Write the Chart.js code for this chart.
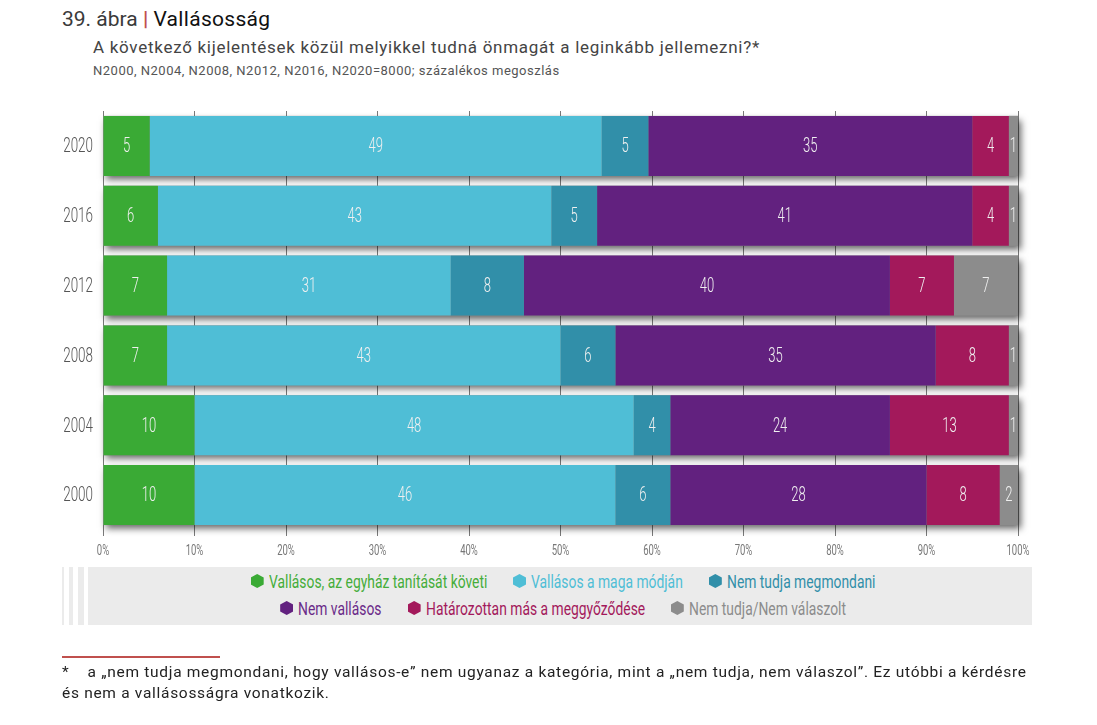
<!DOCTYPE html>
<html lang="hu">
<head>
<meta charset="utf-8">
<script src="https://cdn.jsdelivr.net/npm/chart.js@4"></script>
<style>
  html, body { margin: 0; padding: 0; background: #fff; }
  body { width: 1097px; height: 725px; position: relative; overflow: hidden; font-family: Roboto, 'Open Sans', sans-serif; }
  #wrap { position: absolute; left: 0; top: 0; width: 1097px; height: 725px; }
  .t1 { position: absolute; left: 62px; top: 7px; font-size: 21px; color: #3a3a3a; white-space: nowrap; }
  .t1 .bar { color: #c0504d; font-weight: 700; }
  .t1 .name { color: #111; letter-spacing: 0.3px; }
  .t2 { position: absolute; left: 93px; top: 37px; font-size: 17px; letter-spacing: 0.72px; color: #444; white-space: nowrap; }
  .t3 { position: absolute; left: 93px; top: 63px; font-size: 13px; letter-spacing: 0.5px; color: #555; white-space: nowrap; }
  .stripe { position: absolute; top: 567px; height: 58px; background: #ebebeb; }
  #legend { position: absolute; left: 88px; top: 567px; width: 944px; height: 58px; background: #ebebeb; }
  .lrow { position: absolute; left: 0; width: 950px; display: flex; justify-content: center; }
  .litem { display: flex; align-items: center; margin: 0 13px; font-size: 18px; white-space: nowrap; height: 22px; }
  .ltxt { display: inline-block; transform-origin: 0 50%; overflow: visible; }
  .hex { width: 13px; height: 14px; margin-right: 5px; flex: none; clip-path: polygon(50% 0, 100% 25%, 100% 75%, 50% 100%, 0 75%, 0 25%); }
  .fline { position: absolute; left: 62px; top: 656px; width: 158px; height: 2px; background: #c0504d; }
  .foot { position: absolute; left: 62px; top: 662px; width: 1030px; font-size: 15.5px; letter-spacing: 0.7px; color: #222; line-height: 21px; white-space: nowrap; }
</style>
</head>
<body>
<div class="t1">39. ábra <span class="bar">|</span> <span class="name">Vallásosság</span></div>
<div class="t2">A következő kijelentések közül melyikkel tudná önmagát a leginkább jellemezni?*</div>
<div class="t3">N2000, N2004, N2008, N2012, N2016, N2020=8000; százalékos megoszlás</div>
<div id="wrap"><canvas id="c" width="1097" height="725"></canvas></div>
<div class="stripe" style="left:62px;width:2px"></div>
<div class="stripe" style="left:69px;width:4px"></div>
<div class="stripe" style="left:78px;width:6px"></div>
<div id="legend"></div>
<div class="fline"></div>
<div class="foot">*&nbsp;&nbsp;&nbsp;&nbsp;a „nem tudja megmondani, hogy vallásos-e” nem ugyanaz a kategória, mint a „nem tudja, nem válaszol”. Ez utóbbi a kérdésre<br>és nem a vallásosságra vonatkozik.</div>
<script>
const years = ['2020', '2016', '2012', '2008', '2004', '2000'];
const seriesNames = [
  'Vallásos, az egyház tanítását követi',
  'Vallásos a maga módján',
  'Nem tudja megmondani',
  'Nem vallásos',
  'Határozottan más a meggyőződése',
  'Nem tudja/Nem válaszolt'
];
const vallasosEgyhaz = [5.1, 6, 7, 7, 10, 10];
const vallasosMaga   = [49.4, 43, 31, 43, 48, 46];
const nemTudjaMegm   = [5.1, 5, 8, 6, 4, 6];
const nemVallasos    = [35.4, 41, 40, 35, 24, 28];
const hatarozottan   = [4, 4, 7, 8, 13, 8];
const nemValaszolt   = [1, 1, 7, 1, 1, 2];
const xTicks = [0, 10, 20, 30, 40, 50, 60, 70, 80, 90, 100];
const colors = ['#3aaa35', '#4fbed6', '#318fa9', '#62217f', '#a3195b', '#8c8c8c'];
const textColors = ['#45ad3a', '#4fbed6', '#318fa9', '#6a2a88', '#a3195b', '#8c8c8c'];

const FONT = "Roboto, sans-serif";
const allSeries = [vallasosEgyhaz, vallasosMaga, nemTudjaMegm, nemVallasos, hatarozottan, nemValaszolt];

function narrowText(ctx, text, x, y, sx) {
  ctx.save();
  ctx.translate(x, y);
  ctx.scale(sx, 1);
  ctx.fillText(text, 0, 0);
  ctx.restore();
}

const shadowPlugin = {
  id: 'barShadow',
  beforeDatasetsDraw(chart) {
    const ctx = chart.ctx;
    const xs = chart.scales.x;
    const meta = chart.getDatasetMeta(0);
    ctx.save();
    meta.data.forEach((el) => {
      const h = el.height;
      const x0 = xs.getPixelForValue(0);
      const x1 = xs.getPixelForValue(100);
      ctx.shadowColor = 'rgba(0,0,0,0.6)';
      ctx.shadowBlur = 7;
      ctx.shadowOffsetX = 3;
      ctx.shadowOffsetY = 4;
      ctx.fillStyle = '#888';
      ctx.fillRect(x0, el.y - h / 2, x1 - x0, h);
    });
    ctx.restore();
  }
};

const labelPlugin = {
  id: 'segLabels',
  afterDatasetsDraw(chart) {
    const ctx = chart.ctx;
    ctx.save();
    ctx.font = '300 21px ' + FONT;
    ctx.fillStyle = '#f0f0f0';
    ctx.textAlign = 'center';
    ctx.textBaseline = 'middle';
    chart.data.datasets.forEach((ds, di) => {
      const meta = chart.getDatasetMeta(di);
      meta.data.forEach((el, i) => {
        const v = ds.data[i];
        const cx = (el.x + el.base) / 2;
        narrowText(ctx, String(Math.round(v)), cx, el.y + 1, 0.62);
      });
    });
    ctx.restore();
  }
};

const tickPlugin = {
  id: 'narrowTicks',
  afterDraw(chart) {
    const ctx = chart.ctx;
    const xs = chart.scales.x, ys = chart.scales.y;
    ctx.save();
    ctx.textBaseline = 'middle';
    ctx.font = '400 14px ' + FONT;
    ctx.fillStyle = '#777';
    ctx.textAlign = 'center';
    xs.ticks.forEach((t, i) => {
      narrowText(ctx, t.value + '%', xs.getPixelForTick(i), xs.top + 21, 0.68);
    });
    ctx.font = '300 21px ' + FONT;
    ctx.fillStyle = '#555';
    ctx.textAlign = 'right';
    ys.ticks.forEach((t, i) => {
      narrowText(ctx, ys.getLabelForValue(t.value), 93, ys.getPixelForTick(i) + 1, 0.64);
    });
    ctx.restore();
  }
};

const chart = new Chart(document.getElementById('c'), {
  type: 'bar',
  data: {
    labels: years,
    datasets: seriesNames.map((n, i) => ({
      label: n,
      data: allSeries[i],
      backgroundColor: colors[i],
      borderWidth: 0,
      barPercentage: 0.86,
      categoryPercentage: 1.0
    }))
  },
  options: {
    indexAxis: 'y',
    responsive: false,
    animation: false,
    devicePixelRatio: 1,
    layout: { padding: { left: 0, right: 79, top: 111, bottom: 167 } },
    plugins: { legend: { display: false }, tooltip: { enabled: false } },
    scales: {
      x: {
        stacked: true,
        min: 0,
        max: 100,
        afterBuildTicks(scale) { scale.ticks = xTicks.map(v => ({ value: v })); },
        grid: { color: '#7a7a7a', lineWidth: 1, drawTicks: true, tickLength: 6, tickColor: '#7a7a7a' },
        border: { display: false },
        ticks: { display: false },
        afterFit(scale) { scale.height = 28; }
      },
      y: {
        stacked: true,
        grid: { display: false },
        border: { display: false },
        ticks: { display: false },
        afterFit(scale) { scale.width = 103; }
      }
    }
  },
  plugins: [shadowPlugin, labelPlugin, tickPlugin]
});

// HTML legend generated from the chart's datasets
const legend = document.getElementById('legend');
const rows = [[0, 1, 2], [3, 4, 5]];
const SX = 0.77;
rows.forEach((r, ri) => {
  const row = document.createElement('div');
  row.className = 'lrow';
  row.style.top = (ri === 0 ? 3 : 30) + 'px';
  r.forEach(i => {
    const ds = chart.data.datasets[i];
    const it = document.createElement('div');
    it.className = 'litem';
    it.style.color = textColors[i];
    const hx = document.createElement('span');
    hx.className = 'hex';
    hx.style.background = ds.backgroundColor;
    const tx = document.createElement('span');
    tx.className = 'ltxt';
    tx.textContent = ds.label;
    it.appendChild(hx);
    it.appendChild(tx);
    row.appendChild(it);
  });
  legend.appendChild(row);
});
document.querySelectorAll('.ltxt').forEach(el => {
  const w = el.getBoundingClientRect().width;
  el.style.width = (w * SX) + 'px';
  el.style.transform = 'scaleX(' + SX + ')';
});
</script>
</body>
</html>
